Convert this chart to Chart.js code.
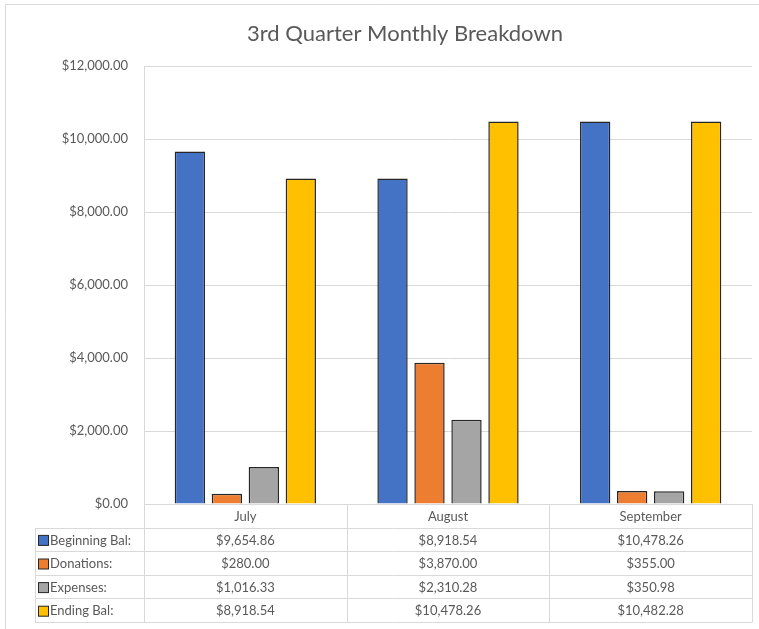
<!DOCTYPE html>
<html>
<head>
<meta charset="utf-8">
<script src="https://cdn.jsdelivr.net/npm/chart.js@4"></script>
<style>
  html, body { margin: 0; padding: 0; background: #fff; }
  #wrap { position: relative; width: 759px; height: 629px; }
</style>
</head>
<body>
<div id="wrap"><canvas id="chart" width="759" height="629"></canvas></div>
<script>
// Chart data
const months = ['July', 'August', 'September'];
const seriesNames = ['Beginning Bal:', 'Donations:', 'Expenses:', 'Ending Bal:'];
const beginningBal = [9654.86, 8918.54, 10478.26];
const donations = [280.00, 3870.00, 355.00];
const expenses = [1016.33, 2310.28, 350.98];
const endingBal = [8918.54, 10478.26, 10482.28];
const yTicks = [0, 2000, 4000, 6000, 8000, 10000, 12000];
const chartTitle = '3rd Quarter Monthly Breakdown';

const colors = ['#4472C4', '#ED7D31', '#A5A5A5', '#FFC000'];
const textColor = '#595959';
const lineColor = '#d9d9d9';
const fontFamily = 'Lato, "Open Sans", sans-serif';

const money = v => '$' + v.toLocaleString('en-US', { minimumFractionDigits: 2, maximumFractionDigits: 2 });

// title + data table under the plot, columns follow the x scale
const dataTable = {
  id: 'dataTable',
  afterDraw(chart) {
    const ctx = chart.ctx;
    const x = chart.scales.x;
    const area = chart.chartArea;
    const rows = [beginningBal, donations, expenses, endingBal];
    const rowH = 23.6;
    const top = area.bottom;
    const labelLeft = 35;
    const colW = (area.right - area.left) / months.length;

    ctx.save();
    // title (Excel centres it a bit left of the plot centre)
    ctx.font = '22px ' + fontFamily;
    ctx.fillStyle = textColor;
    ctx.textAlign = 'center';
    ctx.textBaseline = 'middle';
    ctx.fillText(chartTitle, 405, 34);

    ctx.strokeStyle = lineColor;
    ctx.lineWidth = 1;
    ctx.beginPath();
    // horizontal lines
    ctx.moveTo(area.left, top + 0.5);
    ctx.lineTo(area.right, top + 0.5);
    for (let r = 1; r <= rows.length + 1; r++) {
      const y = Math.round(top + r * rowH) + 0.5;
      ctx.moveTo(labelLeft, y);
      ctx.lineTo(area.right, y);
    }
    // vertical lines
    const bottom = Math.round(top + (rows.length + 1) * rowH) + 0.5;
    ctx.moveTo(labelLeft + 0.5, Math.round(top + rowH) + 0.5);
    ctx.lineTo(labelLeft + 0.5, bottom);
    for (let c = 0; c <= months.length; c++) {
      const xx = Math.round(area.left + c * colW) + 0.5;
      ctx.moveTo(xx, top);
      ctx.lineTo(xx, bottom);
    }
    ctx.stroke();

    ctx.font = '13px ' + fontFamily;
    ctx.fillStyle = textColor;
    ctx.textAlign = 'center';
    months.forEach((m, i) => {
      ctx.fillText(m, x.getPixelForValue(i), top + rowH / 2 + 1);
    });
    rows.forEach((vals, r) => {
      const cy = top + (r + 1.5) * rowH + 1;
      // legend key
      ctx.fillStyle = colors[r];
      ctx.fillRect(38.5, cy - 5, 10, 10);
      ctx.strokeStyle = '#262626';
      ctx.strokeRect(38.5, cy - 5, 10, 10);
      ctx.fillStyle = textColor;
      ctx.textAlign = 'left';
      ctx.fillText(seriesNames[r], 50, cy);
      ctx.textAlign = 'center';
      vals.forEach((v, i) => ctx.fillText(money(v), x.getPixelForValue(i), cy));
    });

    // faint chart frame
    ctx.strokeStyle = lineColor;
    ctx.beginPath();
    ctx.moveTo(5.5, 629);
    ctx.lineTo(5.5, 4.5);
    ctx.lineTo(759, 4.5);
    ctx.stroke();
    ctx.restore();
  }
};

const ds = (label, data, i) => ({
  label,
  data,
  backgroundColor: colors[i],
  borderColor: '#262626',
  borderWidth: 1.5,
  categoryPercentage: 0.73,
  barPercentage: 0.82
});

new Chart(document.getElementById('chart'), {
  type: 'bar',
  data: {
    labels: months,
    datasets: [
      ds(seriesNames[0], beginningBal, 0),
      ds(seriesNames[1], donations, 1),
      ds(seriesNames[2], expenses, 2),
      ds(seriesNames[3], endingBal, 3)
    ]
  },
  options: {
    responsive: false,
    animation: false,
    layout: { padding: { left: 0, right: 7, top: 66, bottom: 125 } },
    plugins: {
      legend: { display: false },
      tooltip: { enabled: false },
      title: { display: false }
    },
    scales: {
      x: { display: false },
      y: {
        min: yTicks[0],
        max: yTicks[yTicks.length - 1],
        afterFit: s => { s.width = 144; },
        afterBuildTicks: s => { s.ticks = yTicks.map(v => ({ value: v })); },
        ticks: {
          color: textColor,
          font: { family: fontFamily, size: 13 },
          padding: 16,
          callback: v => money(v)
        },
        grid: { color: lineColor, drawTicks: false },
        border: { display: true, color: lineColor }
      }
    }
  },
  plugins: [dataTable]
});
</script>
</body>
</html>
